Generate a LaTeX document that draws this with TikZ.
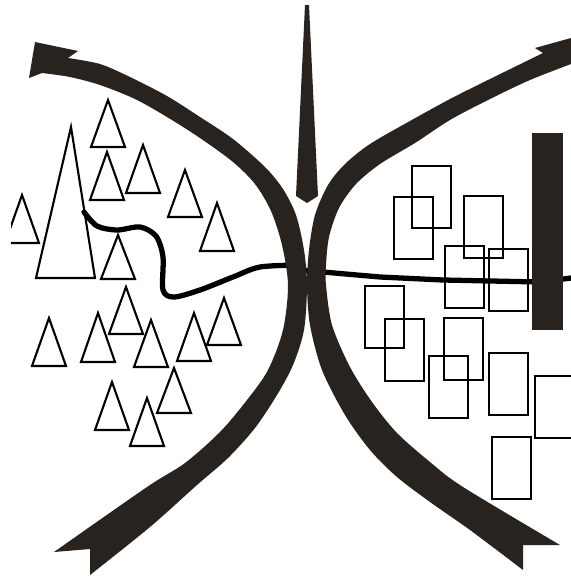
\documentclass[tikz,border=0pt]{standalone}
\usepackage{xcolor}
\definecolor{ink}{RGB}{40,35,30}

\begin{document}
\begin{tikzpicture}[x=0.02cm,y=-0.02cm,
	band/.style={fill=ink},
	hill/.style={draw=black,line width=1.2pt,line join=miter},
	house/.style={draw=black,line width=1.3pt},
	river/.style={draw=black,line width=3pt,line cap=round,line join=round}]
	\clip (0,0) rectangle (571,579);

	% the hills on the left
	\draw[hill] (71,127) -- (95,278) -- (36,278) -- cycle;
	\foreach \ax/\ay/\by in {108/100/147, 107/152/200, 143/145/193, 185/170/217, 217/203/251,
		118/235/279, 49/318/366, 98/313/362, 126/287/334, 151/320/367, 194/313/361,
		224/298/345, 112/382/430, 147/398/446, 174/368/413}
		\draw[hill] (\ax,\ay) -- (\ax+17,\by) -- (\ax-17,\by) -- cycle;
	\begin{scope}
		\clip (11,150) rectangle (60,260);
		\draw[hill] (22,195) -- (39,243) -- (5,243) -- cycle;
	\end{scope}

	% the houses on the right
	\foreach \rx/\ry in {412/166, 394/197, 464/196, 445/246, 489/249, 365/286,
		385/319, 444/318, 429/356, 489/353, 535/376, 492/437}
		\draw[house] (\rx,\ry) rectangle ++(39,62);

	% river
	\draw[river] plot[smooth] coordinates {(84,212) (97,226) (117,230) (140,227) (156,236)
		(163,257) (163,290) (174,297) (200,290) (233,277) (260,267) (300,265)};
	\draw[river] (300,270) -- (380,277) -- (443,280) -- (540,282) -- (571,278);

	% wall
	\fill[band] (532,133) rectangle (563,330);

	% left arrow
	\fill[band] (54,552) -- (90,549) -- (90,575)
		-- plot[smooth] coordinates {(90,575) (150,527) (197,485) (228,458) (255,428) (277,395)
		(293,365) (304,330) (307,285) (304,250) (296,215) (283,189) (265,167) (233,139)
		(200,117) (167,96) (130,77) (100,64) (68,58)}
		-- (78,51) -- (35,42) -- (29,78) -- (42,73)
		-- plot[smooth] coordinates {(42,73) (70,77) (100,85) (135,99) (167,117) (200,138)
		(233,162) (255,184) (271,211) (282,245) (288,285) (283,330) (268,370) (247,400)
		(220,432) (185,463) (147,487) (54,552)} -- cycle;

	% right arrow
	\fill[band] (560,545) -- (523,545) -- (523,570)
		-- plot[smooth] coordinates {(523,570) (470,530) (430,502) (397,477) (370,450) (345,415)
		(322,370) (310,325) (307,285) (309,250) (315,215) (328,185) (345,164) (370,144)
		(410,121) (450,99) (490,79) (543,53)}
		-- (535,48) -- (571,38) -- (590,34) -- (590,62) -- (571,64)
		-- plot[smooth] coordinates {(571,64) (530,80) (490,99) (450,120) (415,143) (380,164)
		(356,184) (339,208) (329,237) (326,265) (326,285) (332,325) (350,367) (372,402)
		(397,433) (430,462) (463,487) (560,545)} -- cycle;

	% spike
	\fill[band] (305,5) -- (309,5) -- (318,196) -- (307,203) -- (296,196) -- cycle;
\end{tikzpicture}
\end{document}
